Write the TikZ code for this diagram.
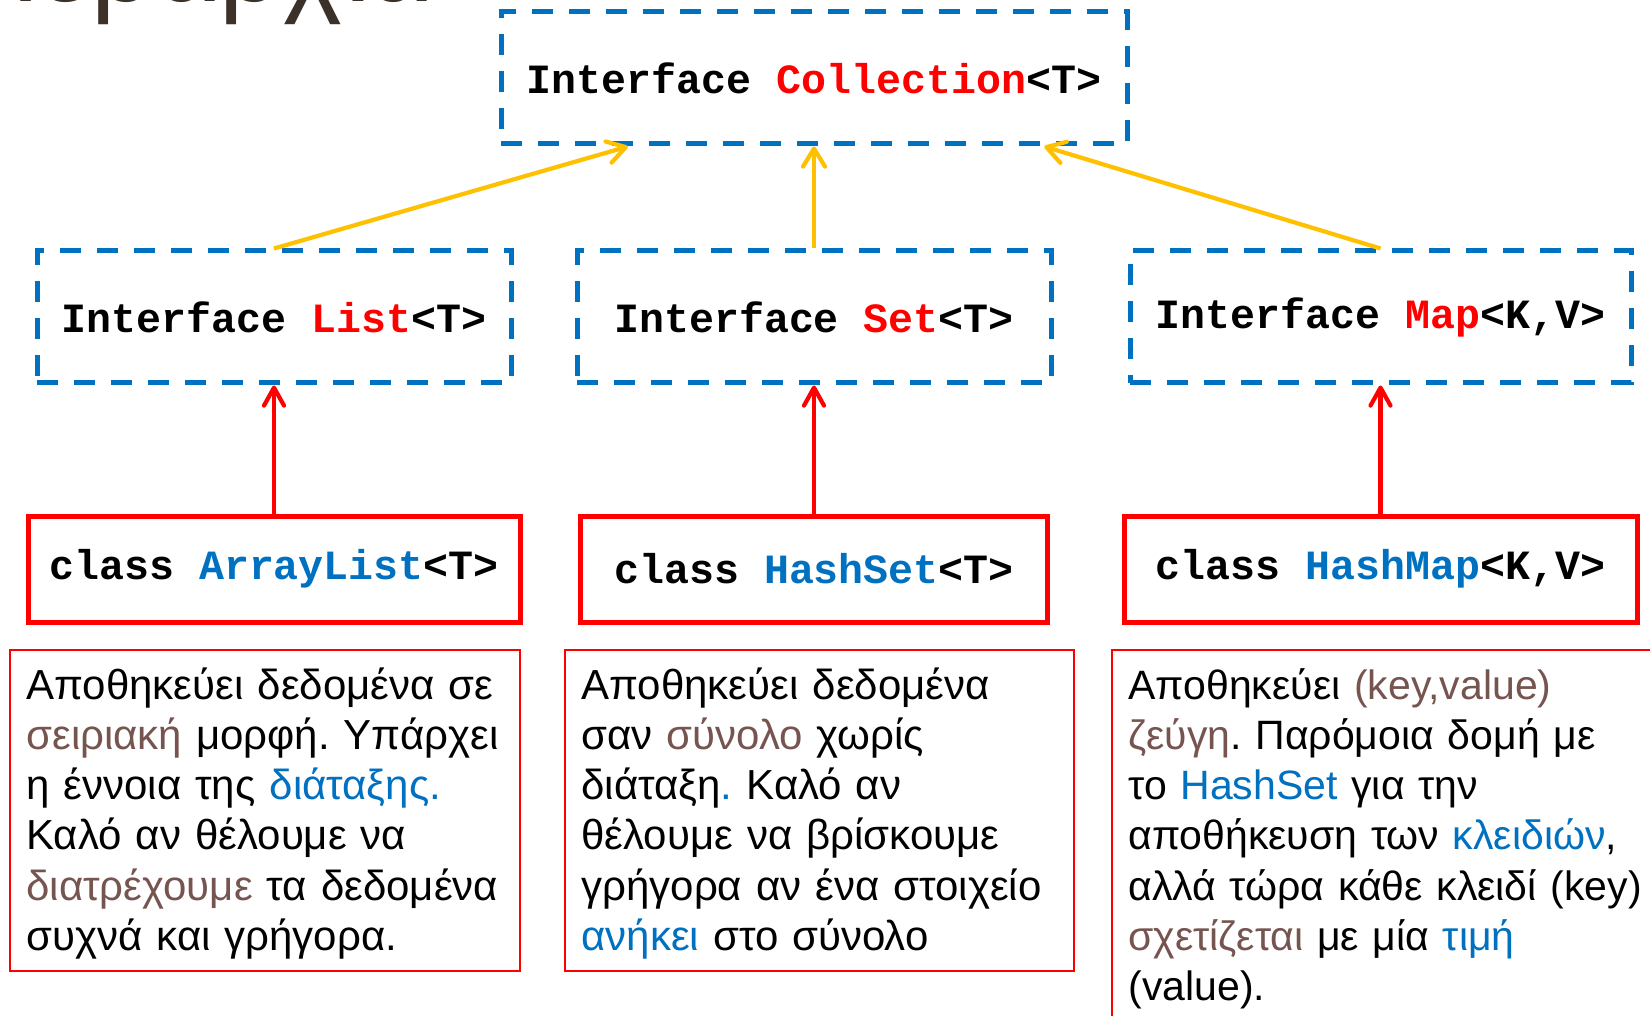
\documentclass[tikz,border=0pt]{standalone}
\usepackage{fontspec}
\setmainfont{Liberation Sans}
\setmonofont{Liberation Mono}
\usepackage{xcolor}
\usetikzlibrary{arrows.meta,calc}
\frenchspacing

\definecolor{ifblue}{RGB}{0,112,192}
\definecolor{clsred}{RGB}{255,0,0}
\definecolor{gold}{RGB}{255,192,0}
\definecolor{brownish}{RGB}{118,85,80}
\definecolor{titlebrown}{RGB}{59,49,41}

\tikzset{
  ifacebox/.style={draw=ifblue, line width=2.5pt, dash pattern=on 10.5pt off 8pt, minimum height=66pt, inner sep=0pt, font=\ttfamily\bfseries\fontsize{20.8}{25}\selectfont},
  classbox/.style={draw=clsred, line width=2.5pt, minimum height=53pt, inner sep=0pt, font=\ttfamily\bfseries\fontsize{20.8}{25}\selectfont},
  descbox/.style={draw=clsred, line width=0.75pt, anchor=north west, inner sep=0pt},
  desctext/.style={anchor=base west, inner sep=0pt, align=left, text width=275pt, font=\fontsize{21}{25.15}\selectfont},
  implarrow/.style={draw=gold, line width=2.1pt, -{Straight Barb[length=9pt,width=11pt,round]}},
  extarrow/.style={draw=clsred, line width=2.1pt, -{Straight Barb[length=9pt,width=10pt,round]}},
}

\begin{document}
\begin{tikzpicture}[x=0.5pt,y=0.5pt,yscale=-1,xscale=1]
		\useasboundingbox (0,0) rectangle (1650,1016);
		
		% Title (cut off at the top)
		\node [anchor=base west, inner sep=0pt, text=titlebrown, font=\fontsize{56}{64}\selectfont] (title) at (10,2) {Ιεραρχία};
		
		% Interface boxes
		\node [ifacebox, minimum width=313pt] (coll) at (814,78) {Interface \textcolor{clsred}{Collection}<T>};
		\node [ifacebox, minimum width=237pt] (list) at (274,317) {Interface \textcolor{clsred}{List}<T>};
		\node [ifacebox, minimum width=237pt] (set) at (814,317) {Interface \textcolor{clsred}{Set}<T>};
		\node [ifacebox, minimum width=250.5pt] (map) at (1380.5,317) {Interface \textcolor{clsred}{Map}<K,V>};
		
		% Class boxes
		\node [classbox, minimum width=246pt] (alist) at (274,569) {class \textcolor{ifblue}{ArrayList}<T>};
		\node [classbox, minimum width=233.5pt] (hset) at (814,569) {class \textcolor{ifblue}{HashSet}<T>};
		\node [classbox, minimum width=256.5pt] (hmap) at (1380.5,569) {class \textcolor{ifblue}{HashMap}<K,V>};
		
		% Arrow ends on the Collection box
		\coordinate (collL) at ($(coll.south west)!0.205!(coll.south east)$);
		\coordinate (collR) at ($(coll.south west)!0.865!(coll.south east)$);
		
		% Yellow arrows
		\draw [implarrow] (list.north) -- (collL);
		\draw [implarrow] (set.north) -- (coll.south);
		\draw [implarrow] (map.north) -- (collR);
		
		% Red arrows
		\draw [extarrow] (alist.north) -- (list.south);
		\draw [extarrow] (hset.north) -- (set.south);
		\draw [extarrow] (hmap.north) -- (map.south);
		
		% Description boxes
		\node [descbox, minimum width=255pt, minimum height=160.5pt] (descA) at (9,649) {};
		\node [descbox, minimum width=254.5pt, minimum height=160.5pt] (descB) at (564,649) {};
		\node [descbox, minimum width=275pt, minimum height=191pt] (descC) at (1111,649) {};
		
		% Text Node
		\node [desctext] (textA) at (26,699) {Αποθηκεύει δεδομένα σε\\
			\textcolor{brownish}{σειριακή} μορφή. Υπάρχει\\
			η έννοια της \textcolor{ifblue}{διάταξης.}\\
			Καλό αν θέλουμε να\\
			\textcolor{brownish}{διατρέχουμε} τα δεδομένα\\
			συχνά και γρήγορα.};
		% Text Node
		\node [desctext] (textB) at (581,699) {Αποθηκεύει δεδομένα\\
			σαν \textcolor{brownish}{σύνολο} χωρίς\\
			διάταξη\textcolor{ifblue}{.} Καλό αν\\
			θέλουμε να βρίσκουμε\\
			γρήγορα αν ένα στοιχείο\\
			\textcolor{ifblue}{ανήκει} στο σύνολο};
		% Text Node
		\node [desctext, font=\fontsize{20.5}{25.15}\selectfont] (textC) at (1128,699) {Αποθηκεύει \textcolor{brownish}{(key,value)}\\
			\textcolor{brownish}{ζεύγη}. Παρόμοια δομή με\\
			το \textcolor{ifblue}{HashSet} για την\\
			αποθήκευση των \textcolor{ifblue}{κλειδιών},\\
			αλλά τώρα κάθε κλειδί (key)\\
			\textcolor{brownish}{σχετίζεται} με μία \textcolor{ifblue}{τιμή}\\
			(value).};
		
\end{tikzpicture}
\end{document}
